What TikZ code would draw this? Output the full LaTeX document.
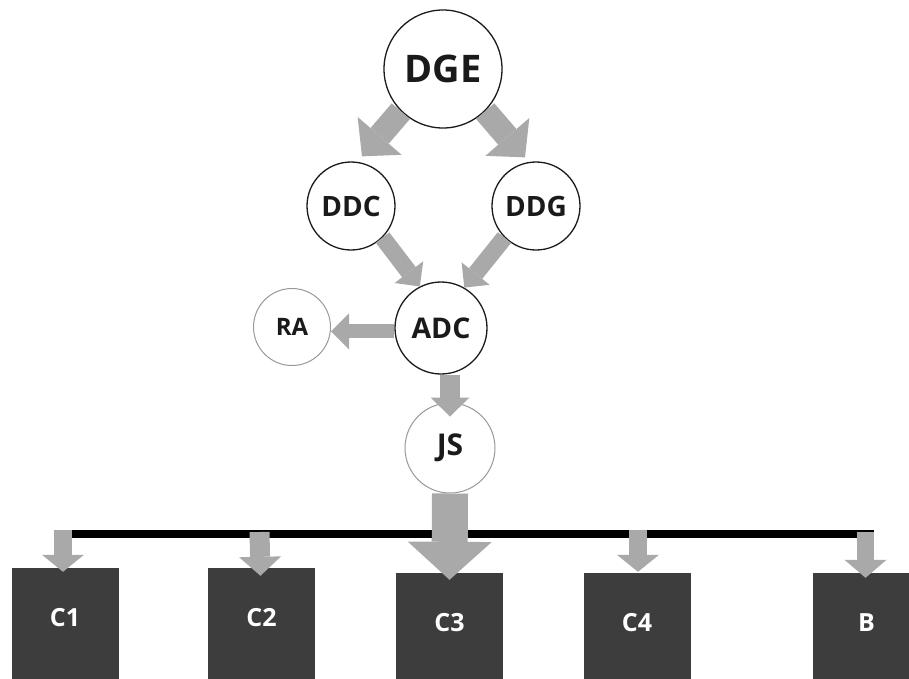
\documentclass[tikz,border=0pt]{standalone}
\usepackage{fontspec}
\setmainfont{Open Sans}
\usetikzlibrary{arrows.meta,calc}
\definecolor{arrowgray}{HTML}{A9A9A9}
\definecolor{boxgray}{HTML}{3D3D3D}
\definecolor{ink}{HTML}{1A1A1A}
\begin{document}
\begin{tikzpicture}[x=1pt,y=-1pt,
  circ/.style={circle,draw=ink,line width=1.3pt,fill=white,inner sep=0pt,text=ink},
  lightcirc/.style={circ,draw=black!40,line width=1pt},
  cbox/.style={rectangle,fill=boxgray,minimum width=107pt,minimum height=112pt,inner sep=0pt,
    text=white,font=\bfseries\fontsize{25}{27}\selectfont,text height=18pt,text depth=14pt},
  fatarrow/.style n args={3}{draw=arrowgray,fill=arrowgray,line width=#1,
    -{Triangle[width=#2,length=#3,line width=0pt]}},
  busline/.style={draw=black,line width=8pt}
]
\clip (0,0) rectangle (909,678);
\fill[white] (0,0) rectangle (909,678);

% circles
\node[circ,minimum size=118pt,font=\bfseries\fontsize{38}{40}\selectfont] (DGE) at (443,69) {DGE};
\node[circ,minimum size=88pt,font=\bfseries\fontsize{28}{30}\selectfont] (DDC) at (351,206) {DDC};
\node[circ,minimum size=88pt,font=\bfseries\fontsize{28}{30}\selectfont] (DDG) at (536,206) {DDG};
\node[circ,minimum size=92pt,font=\bfseries\fontsize{28.5}{30}\selectfont] (ADC) at (441,328) {ADC};
\node[lightcirc,minimum size=77pt,font=\bfseries\fontsize{24}{26}\selectfont] (RA) at (292,327) {RA};
\node[lightcirc,minimum size=90pt,font=\bfseries\fontsize{30}{32}\selectfont] (JS) at (450,448) {JS};

% boxes
\node[cbox] (C1) at (65,624) {C1};
\node[cbox] (C2) at (261.5,624) {C2};
\node[cbox] (C3) at (449.5,629) {C3};
\node[cbox] (C4) at (637,629) {C4};
\node[cbox,font=\bfseries\fontsize{25}{27}\selectfont] (B) at (866.5,629) {B};

% bus
\coordinate (bus) at (0,534);
\draw[busline] (C1.north |- bus) -- ($(B.north |- bus)+(7,0)$);

% arrows
\draw[fatarrow={24pt}{58pt}{27pt}] (DGE.225) -- ($(DDC.north)+(11,-5)$);
\draw[fatarrow={24pt}{58pt}{27pt}] (DGE.-45) -- ($(DDG.north)+(-11,-4)$);
\draw[fatarrow={17pt}{36pt}{18pt}] (DDC.-45) -- (ADC.117);
\draw[fatarrow={17pt}{36pt}{18pt}] (DDG.-135) -- (ADC.60);
\draw[fatarrow={14pt}{36pt}{18pt}] (ADC.184) -- (RA.east |- ADC.184);
\draw[fatarrow={20pt}{39pt}{19pt}] (ADC.south -| JS.center) -- ($(JS.north)+(0,14)$);
\draw[fatarrow={36pt}{84pt}{38pt}] (JS.south) -- ($(C3.north)+(0,7)$);

\draw[fatarrow={18pt}{42pt}{17pt}] ($(C1.north |- bus)+(-2,-4)$) -- ($(C1.north)+(-2,4)$);
\draw[fatarrow={20pt}{42pt}{19pt}] ($(C2.north |- bus)+(-2,-2)$) -- ($(C2.north)+(-1,8)$);
\draw[fatarrow={18pt}{42pt}{17pt}] ($(C4.north |- bus)+(1,-4)$) -- ($(C4.north)+(1,-1)$);
\draw[fatarrow={17pt}{42pt}{18pt}] ($(B.north |- bus)+(-1,-2)$) -- ($(B.north)+(-1,5)$);
\end{tikzpicture}
\end{document}
